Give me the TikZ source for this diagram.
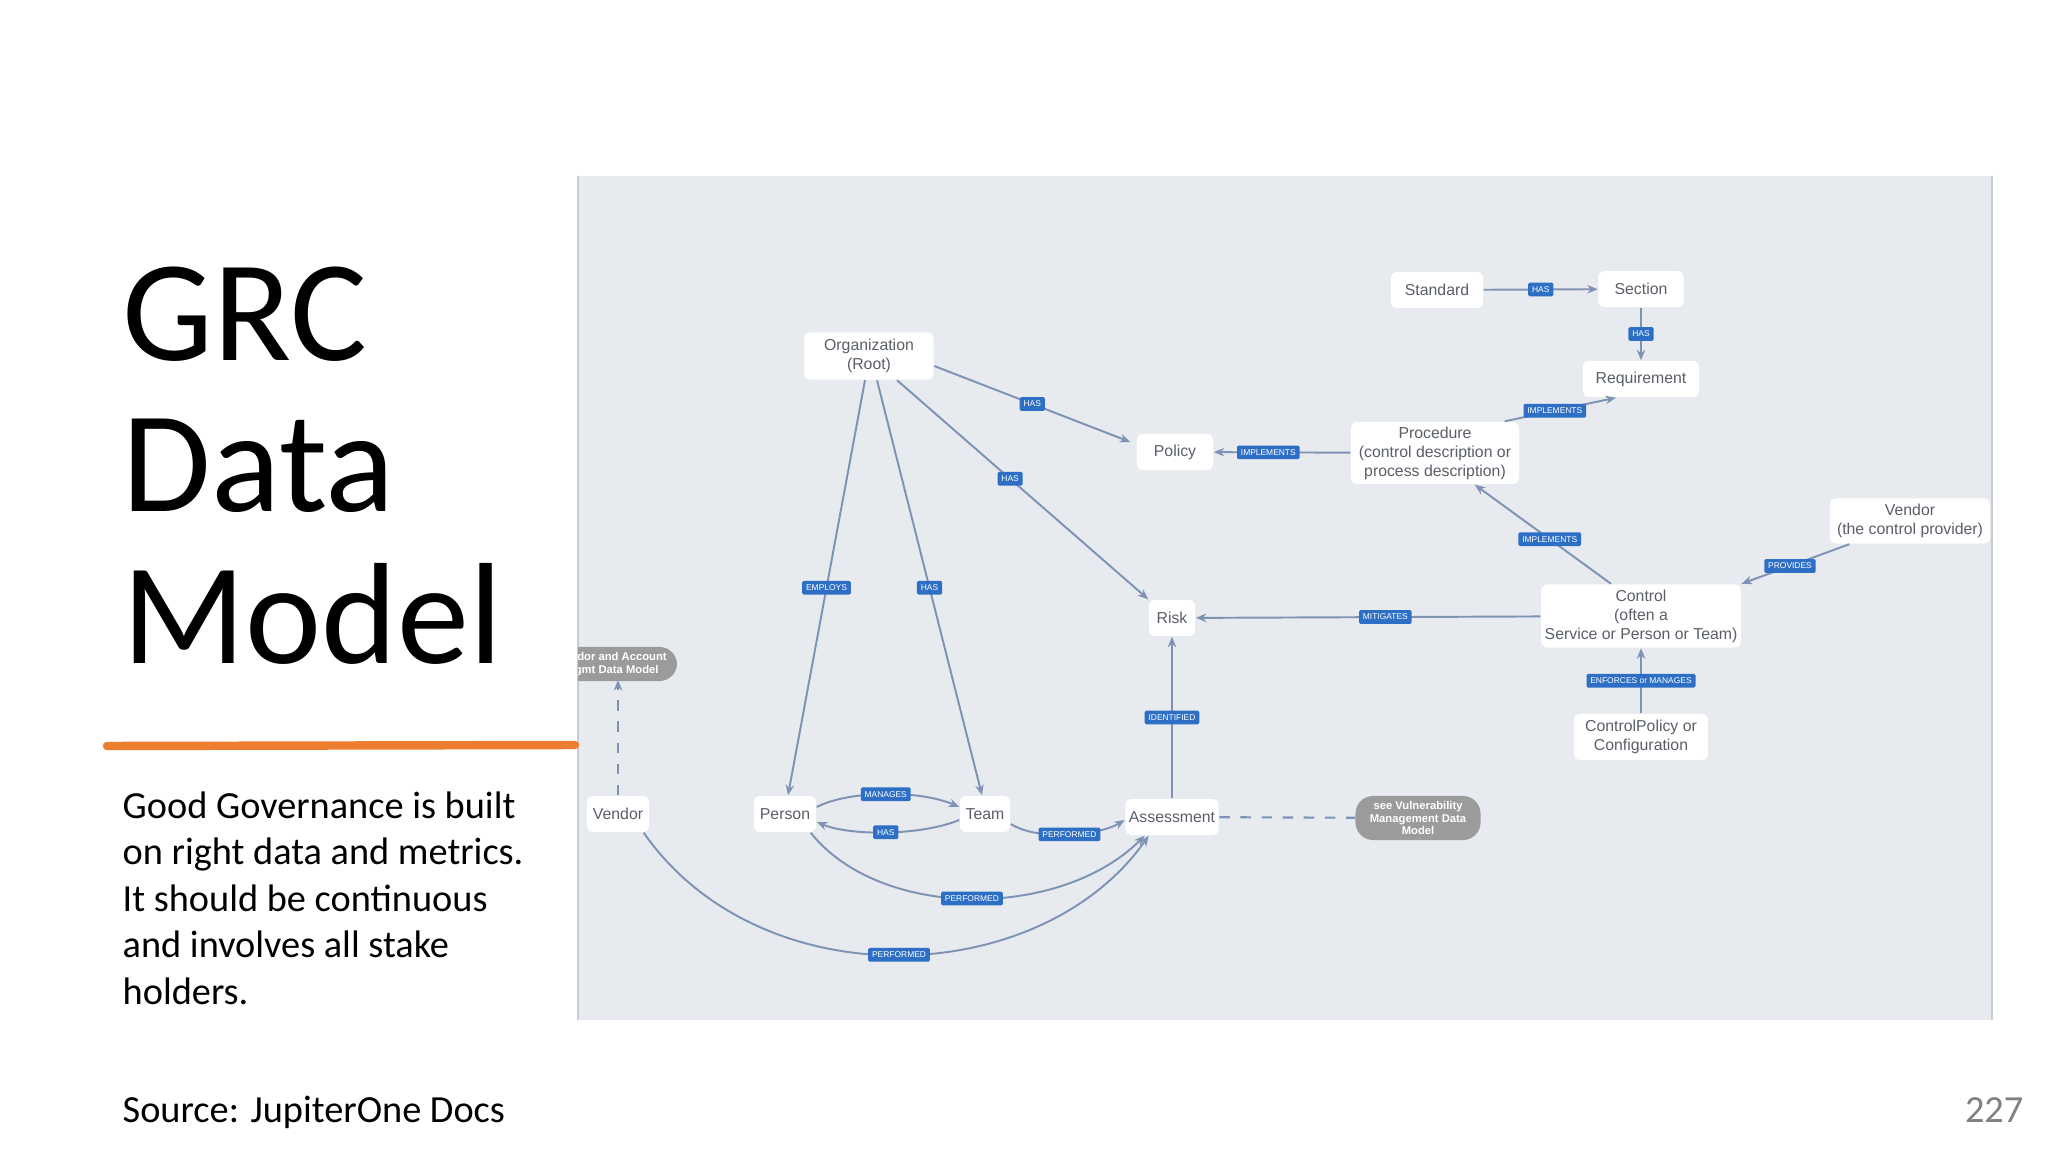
\documentclass[tikz,border=0pt]{standalone}
\usepackage{fontspec}
\setmainfont{Carlito}
\newfontfamily\nodefont{Liberation Sans}
\usetikzlibrary{arrows.meta,calc}
\definecolor{panelbg}{HTML}{E7EAEE}
\definecolor{panelln}{HTML}{C9CDD3}
\definecolor{edgec}{HTML}{7E93B3}
\definecolor{lblue}{HTML}{2E6FC6}
\definecolor{ntext}{HTML}{5A5F67}
\definecolor{grayn}{HTML}{9B9B9B}
\definecolor{orangeln}{HTML}{ED7D31}
\tikzset{
  ent/.style={draw=none,fill=white,rounded corners=1.5pt,font=\nodefont\fontsize{4.5}{5.4}\selectfont,text=ntext,align=center,minimum height=0.36cm,inner sep=1pt},
  lbl/.style={fill=lblue,text=white,font=\nodefont\fontsize{2.4}{2.8}\selectfont,inner sep=1.1pt,rounded corners=0.4pt},
  edge/.style={draw=edgec,line width=0.55pt,-{Stealth[length=3pt,width=2.4pt]}},
  dedge/.style={draw=edgec,line width=0.6pt,dashed},
  ext/.style={fill=grayn,rounded corners=5pt,text=white,font=\nodefont\bfseries\fontsize{3.2}{3.6}\selectfont,align=center,inner sep=1pt}
}
\begin{document}
\begin{tikzpicture}[x=0.01cm,y=-0.01cm]
\useasboundingbox (0,0) rectangle (2048,1152);
\fill[white] (0,0) rectangle (2048,1152);
% panel
\fill[panelbg] (578,176) rectangle (1992,1020);
\draw[panelln,line width=0.6pt] (578,176) -- (578,1020);
\draw[panelln,line width=0.6pt] (1992,176) -- (1992,1020);
% title and text
\node[anchor=base west,align=left,font=\fontsize{41}{43}\selectfont,inner sep=0pt] (title) at (122,663) {GRC\\Data\\Model};
\draw[orangeln,line width=2.4pt,line cap=round] (107,746) -- (575,745);
\node[anchor=base west,align=left,font=\fontsize{10.9}{13.2}\selectfont,inner sep=0pt] (body) at (122,1004) {Good Governance is built\\on right data and metrics.\\It should be continuous\\and involves all stake\\holders.};
\node[anchor=base west,font=\fontsize{10.9}{12}\selectfont,inner sep=0pt] (src) at (122,1122) {Source: JupiterOne Docs};
\node[anchor=base east,font=\fontsize{10.9}{12}\selectfont,text=gray,inner sep=0pt] (pg) at (2024,1122) {227};
% entities
\node[ent,minimum width=0.92cm] (std) at (1437,290) {Standard};
\node[ent,minimum width=0.85cm] (sec) at (1641,289) {Section};
\node[ent,minimum width=1.16cm] (req) at (1641,379) {Requirement};
\node[ent,minimum width=1.29cm,minimum height=0.47cm] (org) at (869,356) {Organization\\(Root)};
\node[ent,minimum width=0.76cm] (pol) at (1175,452) {Policy};
\node[ent,minimum width=1.68cm,minimum height=0.62cm] (proc) at (1435,453) {Procedure\\(control description or\\process description)};
\node[ent,minimum width=1.60cm,minimum height=0.45cm] (vend2) at (1910,521) {Vendor\\(the control provider)};
\node[ent,minimum width=0.46cm] (risk) at (1172,618) {Risk};
\node[ent,minimum width=1.94cm,minimum height=0.63cm] (ctrl) at (1641,616) {Control\\(often a\\Service or Person or Team)};
\node[ent,minimum width=1.34cm,minimum height=0.46cm] (cpol) at (1641,737) {ControlPolicy or\\Configuration};
\node[ent,minimum width=0.62cm] (vend) at (618,814) {Vendor};
\node[ent,minimum width=0.62cm] (pers) at (785,814) {Person};
\node[ent,minimum width=0.50cm] (team) at (985,814) {Team};
\node[ent,minimum width=0.89cm] (assm) at (1172,817) {Assessment};
\begin{scope}
\clip (578,176) rectangle (1992,1020);
\node[ext,minimum width=1.30cm,minimum height=0.34cm] (extl) at (612,664) {Vendor and Account\\Mgmt Data Model};
\end{scope}
\node[ext,minimum width=1.25cm,minimum height=0.44cm] (extr) at (1418,818) {see Vulnerability\\Management Data\\Model};
% edges
\draw[edge] (std) -- node[lbl]{HAS} (sec);
\draw[edge] (sec) -- node[lbl]{HAS} (req);
\draw[edge] ($(proc.north east)+(-15,0)$) -- node[lbl,pos=0.45]{IMPLEMENTS} ($(req.south)+(-25,0)$);
\draw[edge] (proc) -- node[lbl,pos=0.6]{IMPLEMENTS} (pol);
\draw[edge] ($(org.east)+(0,10)$) -- node[lbl]{HAS} ($(pol.west)+(-6,-10)$);
\draw[edge] ($(org.south)+(28,0)$) -- node[lbl,pos=0.45]{HAS} (risk.north west);
\draw[edge] ($(org.south)+(-4,0)$) -- node[lbl,pos=0.5]{EMPLOYS} ($(pers.north)+(3,0)$);
\draw[edge] ($(org.south)+(8,0)$) -- node[lbl,pos=0.5]{HAS} ($(team.north)+(-3,0)$);
\draw[edge] ($(ctrl.north)+(-30,0)$) -- node[lbl,pos=0.45]{IMPLEMENTS} ($(proc.south east)+(-45,0)$);
\draw[edge] ($(vend2.south west)+(20,0)$) -- node[lbl,pos=0.55]{PROVIDES} (ctrl.north east);
\draw[edge] (ctrl) -- node[lbl,pos=0.45]{MITIGATES} (risk);
\draw[edge] (cpol) -- node[lbl,pos=0.5]{ENFORCES or MANAGES} (ctrl);
\draw[edge] (assm) -- node[lbl,pos=0.5]{IDENTIFIED} (risk);
\draw[dedge] (assm) -- (extr);
\draw[dedge,-{Stealth[length=3pt,width=2.4pt]}] (vend) -- (618,680);
\draw[edge] ($(pers.east)+(0,-7)$) .. controls (850,790) and (920,790) .. node[lbl]{MANAGES} ($(team.west)+(0,-7)$);
\draw[edge] ($(team.west)+(0,6)$) .. controls (920,836) and (850,836) .. node[lbl]{HAS} ($(pers.east)+(0,8)$);
\draw[edge] ($(team.east)+(0,10)$) .. controls (1040,842) and (1100,835) .. node[lbl]{PERFORMED} ($(assm.west)+(0,3)$);
\draw[edge] ($(pers.south east)+(-6,0)$) .. controls (880,920) and (1060,920) .. node[lbl]{PERFORMED} ($(assm.south west)+(20,0)$);
\draw[edge] ($(vend.south east)+(-6,0)$) .. controls (760,1000) and (1040,990) .. node[lbl]{PERFORMED} ($(assm.south west)+(24,0)$);
\end{tikzpicture}
\end{document}
